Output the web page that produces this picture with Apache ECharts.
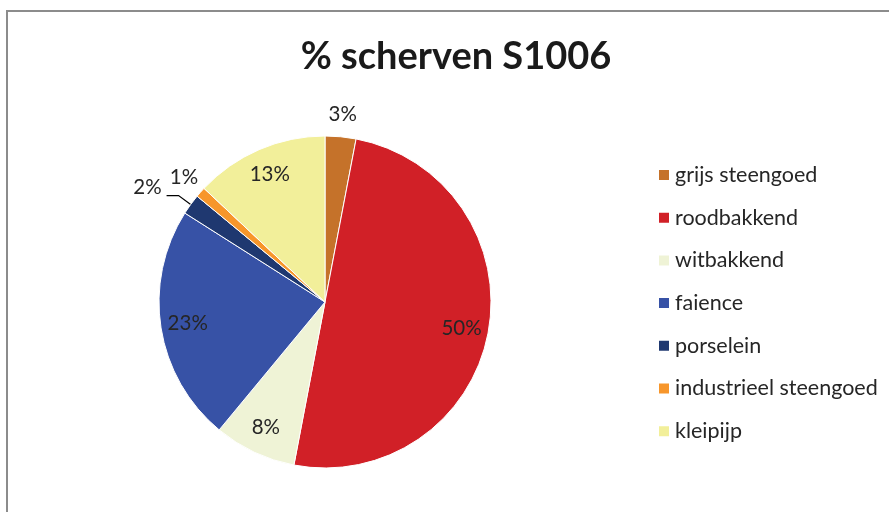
<!DOCTYPE html>
<html>
<head>
<meta charset="utf-8">
<script src="https://cdn.jsdelivr.net/npm/echarts@6/dist/echarts.min.js"></script>
<style>
html,body{margin:0;padding:0;background:#fff;}
#chart{width:889px;height:512px;}
</style>
</head>
<body>
<div id="chart"></div>
<script>
const titleText = '% scherven S1006';
const categories = ['grijs steengoed', 'roodbakkend', 'witbakkend', 'faience', 'porselein', 'industrieel steengoed', 'kleipijp'];
const values = [3, 50, 8, 23, 2, 1, 13];
const colors = ['#C5722A', '#D12027', '#EFF3D6', '#3752A6', '#1F3870', '#F7962B', '#F2EF9A'];
// label placement groups
const innerLabelled = ['roodbakkend', 'witbakkend', 'faience', 'kleipijp'];
const rimLabelled = ['grijs steengoed', 'industrieel steengoed'];
const leaderLabelled = ['porselein'];

const FONT = 'Lato, "Open Sans", sans-serif';
const TXT = '#262626';
const CX = 325, CY = 302, R = 166;
const LABEL_SIZE = 20.5;

const chart = echarts.init(document.getElementById('chart'), null, {renderer: 'canvas'});

function pct(p){ return Math.round(p.percent) + '%'; }

const mainData = categories.map((c, i) => ({
  name: c, value: values[i],
  itemStyle: {color: colors[i]},
  label: leaderLabelled.includes(c)
    ? {show: true, position: 'outside', formatter: p => pct(p) + '\n ', fontSize: LABEL_SIZE, lineHeight: 16, fontFamily: FONT, color: TXT}
    : {show: false},
  labelLine: leaderLabelled.includes(c)
    ? {show: true, length: 15, length2: 12, smooth: false, lineStyle: {color: '#000', width: 1.2}}
    : {show: false}
}));

const innerData = categories.map((c, i) => ({
  name: c, value: values[i],
  itemStyle: {color: 'rgba(0,0,0,0)'},
  label: {show: innerLabelled.includes(c)}
}));

const rimData = categories.map((c, i) => ({
  name: c, value: values[i],
  itemStyle: {color: 'rgba(0,0,0,0)'},
  label: {show: rimLabelled.includes(c)}
}));

const option = {
  animation: false,
  backgroundColor: '#fff',
  title: {
    text: titleText,
    left: 451, top: 33, textAlign: 'center',
    textStyle: {fontFamily: FONT, fontWeight: 'bold', fontSize: 38, color: '#1a1a1a'}
  },
  legend: {
    orient: 'vertical',
    left: 652, top: 159,
    itemWidth: 12, itemHeight: 12, itemGap: 20.7,
    icon: 'rect',
    selectedMode: false,
    data: categories.map((c, i) => ({name: c, itemStyle: {color: colors[i]}})),
    textStyle: {fontFamily: FONT, fontSize: 21.5, color: TXT, lineHeight: 20}
  },
  graphic: [{
    type: 'rect', silent: true, z: -1,
    shape: {x: 7, y: 11, width: 920, height: 540},
    style: {fill: 'none', stroke: '#8c8c8c', lineWidth: 2}
  }],
  series: [
    {
      name: 'main', type: 'pie',
      center: [CX, CY], radius: R,
      startAngle: 90, clockwise: true,
      avoidLabelOverlap: false,
      emphasis: {disabled: true},
      itemStyle: {borderColor: '#fff', borderWidth: 1},
      data: mainData
    },
    {
      name: 'inner-labels', type: 'pie',
      center: [CX, CY], radius: [106, R],
      startAngle: 90, clockwise: true, silent: true,
      emphasis: {disabled: true},
      label: {position: 'inside', formatter: pct, fontSize: LABEL_SIZE, fontFamily: FONT, color: TXT},
      labelLine: {show: false},
      data: innerData
    },
    {
      name: 'rim-labels', type: 'pie',
      center: [CX, CY], radius: [R, 204],
      startAngle: 90, clockwise: true, silent: true,
      emphasis: {disabled: true},
      label: {position: 'inside', formatter: pct, fontSize: LABEL_SIZE, fontFamily: FONT, color: TXT},
      labelLine: {show: false},
      data: rimData
    }
  ]
};
chart.setOption(option);
</script>
</body>
</html>
